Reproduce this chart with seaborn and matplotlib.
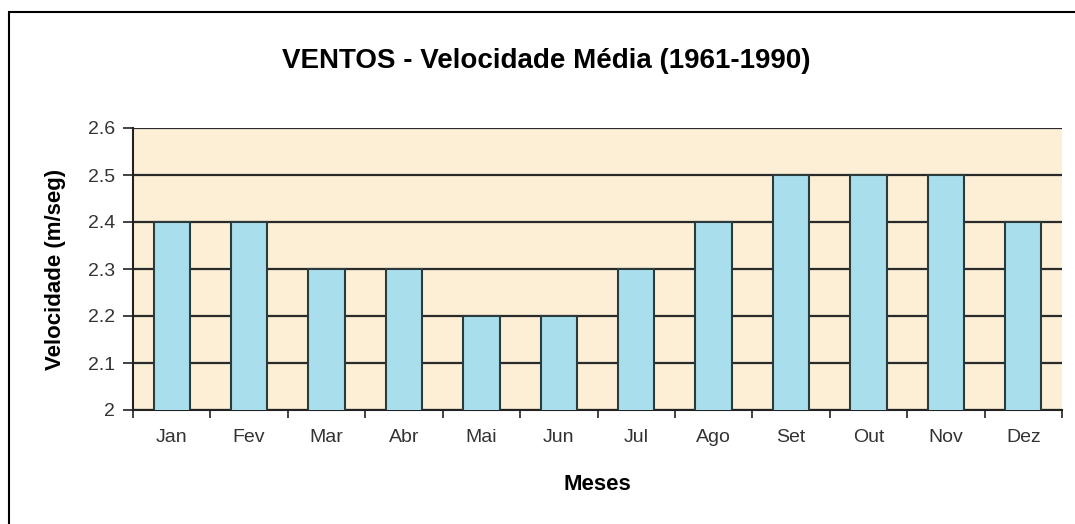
import matplotlib
matplotlib.use("Agg")
import matplotlib.pyplot as plt
import matplotlib.patches as mpatches
import numpy as np
import pandas as pd
import seaborn as sns

# data
meses = ["Jan", "Fev", "Mar", "Abr", "Mai", "Jun",
         "Jul", "Ago", "Set", "Out", "Nov", "Dez"]
velocidade = [2.4, 2.4, 2.3, 2.3, 2.2, 2.2, 2.3, 2.4, 2.5, 2.5, 2.5, 2.4]
y_ticks = [2.0, 2.1, 2.2, 2.3, 2.4, 2.5, 2.6]
y_tick_labels = ["2", "2.1", "2.2", "2.3", "2.4", "2.5", "2.6"]

sns.set_theme(style="white")
plt.rcParams["font.family"] = ["Liberation Sans", "DejaVu Sans"]

df = pd.DataFrame({"Mes": meses, "Vel": velocidade})

fig = plt.figure(figsize=(10.75, 5.24), dpi=100)
W, H = 1075, 524

# outer frame of the chart (cropped at right/bottom)
frame = mpatches.Rectangle((9 / W, -0.05), 1.05, 1 - 12 / H + 0.05,
                           transform=fig.transFigure, fill=False,
                           edgecolor="black", linewidth=1.5, clip_on=False)
fig.patches.append(frame)

ax = fig.add_axes([133 / W, 1 - 410 / H, (1062 - 133) / W, (410 - 128) / H])
ax.set_facecolor("#fcefd6")

sns.barplot(data=df, x="Mes", y="Vel", ax=ax, color="#a9dfec",
            edgecolor="#2b3a3a", linewidth=1.5, width=0.47,
            saturation=1, zorder=3)

ax.set_ylim(2.0, 2.6)
ax.set_xlim(-0.5, len(meses) - 0.5)
ax.set_yticks(y_ticks)
ax.set_yticklabels(y_tick_labels)
ax.yaxis.grid(True, color="#2a2a2a", linewidth=1.6)
ax.set_axisbelow(True)

# ticks between categories
ax.set_xticks(np.arange(len(meses)), labels=meses)
ax.set_xticks(np.arange(len(meses) + 1) - 0.5, minor=True)
ax.tick_params(axis="x", which="major", length=0, pad=14,
               labelsize=14, labelcolor="#333333")
ax.tick_params(axis="x", which="minor", length=6, width=1.2,
               color="#222222", direction="out", bottom=True)
ax.tick_params(axis="y", length=7, width=1.2, color="#222222",
               direction="out", left=True, labelsize=14,
               labelcolor="#333333", pad=6)

for side in ["top", "right"]:
    ax.spines[side].set_visible(False)
for side in ["left", "bottom"]:
    ax.spines[side].set_color("#222222")
    ax.spines[side].set_linewidth(1.5)

ax.set_xlabel("Meses", fontsize=16, fontweight="bold", color="black")
ax.set_ylabel("Velocidade (m/seg)", fontsize=16, fontweight="bold", color="black")
ax.xaxis.label.set_va("center")
ax.yaxis.label.set_va("center")
ax.xaxis.set_label_coords(0.5, (410 - 484) / 282)
ax.yaxis.set_label_coords((55 - 133) / 929, 0.5)

fig.text(546 / W, 1 - 61 / H, "VENTOS - Velocidade Média (1961-1990)",
         ha="center", va="center", fontsize=20, fontweight="bold",
         color="black")

fig.savefig("out.png", dpi=100, facecolor="white")
